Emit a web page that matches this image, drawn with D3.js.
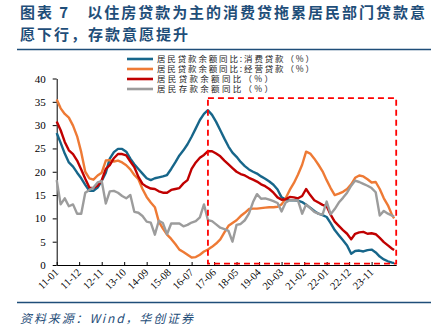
<!DOCTYPE html>
<html><head><meta charset="utf-8">
<script src="https://cdn.jsdelivr.net/npm/d3@7"></script>
<style>
html,body{margin:0;padding:0;background:#fff;}
svg{display:block;}
</style></head>
<body>
<svg id="c" width="431" height="326"></svg>
<script>
// ---- data (bimonthly readings, month index from 2011-01) ----
const months = [0,2,4,6,8,10,12,14,16,18,20,22,24,26,28,30,32,34,36,38,40,42,44,46,48,50,52,54,56,58,60,62,64,66,68,70,72,74,76,78,80,82,84,86,88,90,92,94,96,98,100,102,104,106,108,110,112,114,116,118,120,122,124,126,128,130,132,134,136,138,140,142,144,146,148,150,152,154,156,158,160,162,164,165];
const consumerLoans = [28.3,26.2,23.9,22.0,21.1,19.8,18.6,17.2,15.9,15.9,16.6,18.0,19.8,22.8,24.2,24.9,24.9,24.3,22.8,21.6,20.6,19.6,18.6,18.2,18.6,18.8,19.0,19.3,20.6,22.0,23.5,24.6,25.9,27.5,29.3,31.1,32.4,33.2,32.2,30.7,28.9,27.1,25.4,24.1,23.2,22.1,21.2,20.5,20.0,19.6,19.0,18.5,17.9,17.2,16.2,14.5,14.1,13.9,13.9,13.8,13.5,12.9,12.3,11.6,11.0,10.7,10.3,9.0,7.5,6.4,5.3,4.2,2.4,3.0,3.1,2.9,3.2,3.3,2.7,1.8,1.2,0.8,0.5,0.4];
const businessLoans = [35.5,33.6,32.4,31.6,29.9,27.6,24.2,20.0,18.6,18.3,19.2,19.8,22.4,22.5,22.2,22.4,22.0,21.4,20.5,19.3,18.4,16.3,14.6,13.4,12.4,9.3,7.8,6.5,5.6,4.5,3.3,2.8,2.2,1.6,1.7,2.2,2.9,3.3,3.9,4.6,5.5,7.0,8.4,9.0,9.6,10.5,11.2,12.0,12.1,12.1,12.2,12.3,12.4,12.4,12.5,13.0,14.3,16.1,17.6,19.4,21.5,24.3,23.9,22.8,21.5,20.1,18.2,16.5,15.0,15.3,15.7,16.3,17.3,18.7,19.2,19.0,18.4,17.7,17.8,16.3,14.3,12.8,10.7,10.0];
const householdLoans = [30.8,28.9,26.4,24.6,23.8,22.4,20.5,18.5,16.6,16.5,17.0,18.2,20.6,21.4,22.9,23.8,23.8,23.5,22.2,21.0,18.9,17.4,16.8,16.4,16.3,15.8,15.5,15.5,16.1,16.3,16.5,17.5,18.2,20.6,22.0,23.0,23.6,24.4,24.4,23.9,23.3,22.4,21.6,20.8,20.0,19.5,19.2,18.7,18.3,17.9,17.3,16.9,16.3,15.5,14.5,14.0,14.1,14.6,14.5,14.3,14.8,16.3,15.0,13.9,13.4,12.9,12.6,10.8,9.3,8.4,7.5,6.7,5.5,6.7,7.0,7.1,6.7,6.8,6.6,5.8,4.9,4.2,3.5,3.2];
const householdDeposits = [18.2,13.0,14.3,12.6,13.0,11.0,11.0,15.5,16.1,16.6,17.7,18.0,13.2,15.8,15.9,15.5,14.8,14.3,15.0,11.4,11.2,10.5,9.3,9.1,6.5,9.5,9.0,6.6,8.9,8.9,8.9,8.3,8.6,9.1,9.4,10.2,13.0,9.6,9.4,8.7,8.0,7.7,7.3,5.0,8.6,8.8,9.6,11.0,13.5,15.2,14.2,14.3,14.0,13.7,13.3,11.5,13.4,13.9,13.9,13.8,11.0,13.0,12.2,11.4,11.0,10.8,13.6,10.9,12.0,13.4,14.4,15.5,17.0,18.1,17.8,17.4,17.0,16.5,15.6,10.6,11.6,11.0,10.6,10.4];
const seriesNames = ["居民贷款余额同比:消费贷款（%）","居民贷款余额同比:经营贷款（%）","居民贷款余额同比（%）","居民存款余额同比（%）"];
const tickLabels = ["11-01","11-12","12-11","13-10","14-09","15-08","16-07","17-06","18-05","19-04","20-03","21-02","22-01","22-12","23-11"];
const yTicks = [0,5,10,15,20,25,30,35,40];
const highlight = {start:"2017-03", end:"2024-11", low:0.3, high:35.8};

const colors = ["#17668A","#EE7A35","#C00000","#9C9C9C"];
const allSeries = [consumerLoans,businessLoans,householdLoans,householdDeposits];

const svg = d3.select("#c");
const base = new Date(2011,0,1);
const mDate = m => new Date(2011, m, 1);
const parseTick = s => new Date(2000+ +s.slice(0,2), +s.slice(3)-1, 1);
const parseYM = s => new Date(+s.slice(0,4), +s.slice(5)-1, 1);

const x = d3.scaleTime().domain([base, new Date(2024,10,1)]).range([56.7, 396.2]);
const y = d3.scaleLinear().domain([0,40]).range([265, 78.5]);

// title
const titleColor = "#1F4E79";
svg.append("text").attr("x",20).attr("y",17.5)
  .attr("font-family","'Noto Sans CJK SC'").attr("font-weight","bold").attr("font-size",15)
  .attr("fill",titleColor).attr("textLength",405).attr("lengthAdjust","spacing")
  .text("图表 7　以住房贷款为主的消费贷拖累居民部门贷款意");
svg.append("text").attr("x",20).attr("y",39.5)
  .attr("font-family","'Noto Sans CJK SC'").attr("font-weight","bold").attr("font-size",15)
  .attr("fill",titleColor).attr("textLength",168).attr("lengthAdjust","spacing")
  .text("愿下行，存款意愿提升");
svg.append("line").attr("x1",17).attr("x2",431).attr("y1",49.5).attr("y2",49.5)
  .attr("stroke",titleColor).attr("stroke-width",1.5);

// axes
const xAxis = d3.axisBottom(x).tickValues(tickLabels.map(parseTick))
  .tickSizeInner(-3).tickSizeOuter(0).tickFormat((d,i)=>tickLabels[i]);
const gx = svg.append("g").attr("transform","translate(0,265)").call(xAxis);
gx.select(".domain").attr("stroke","#000").attr("stroke-width",1);
gx.selectAll(".tick line").attr("stroke","#000");
gx.selectAll(".tick text")
  .attr("font-family","'Liberation Serif'").attr("font-size",10.5).attr("fill","#000")
  .attr("text-anchor","end").attr("dy",0).attr("y",0)
  .attr("transform","translate(2,8) rotate(-45)");

const yAxis = d3.axisLeft(y).tickValues(yTicks).tickSizeInner(4).tickSizeOuter(0).tickPadding(7);
const gy = svg.append("g").attr("transform","translate(56.7,0)").call(yAxis);
gy.select(".domain").attr("stroke","#000").attr("stroke-width",1);
gy.selectAll(".tick line").attr("stroke","#000");
gy.selectAll(".tick text").attr("font-family","'Liberation Serif'").attr("font-size",11).attr("fill","#000");

// lines
const line = d3.line().x((d,i)=>x(mDate(months[i]))).y(d=>y(d));
allSeries.forEach((s,k)=>{
  svg.append("path").datum(s).attr("d",line).attr("fill","none")
    .attr("stroke",colors[k]).attr("stroke-width",2.4).attr("stroke-linejoin","round");
});

// highlight box
const hx0 = x(parseYM(highlight.start)), hx1 = x(parseYM(highlight.end));
const hy0 = y(highlight.high), hy1 = y(highlight.low);
svg.append("rect").attr("x",hx0).attr("y",hy0).attr("width",hx1-hx0).attr("height",hy1-hy0)
  .attr("fill","none").attr("stroke","#FF0000").attr("stroke-width",1.8).attr("stroke-dasharray","6,4");

// legend
const legendLen = [157,157,116,116];
seriesNames.forEach((n,k)=>{
  const ly = 59 + k*10;
  svg.append("line").attr("x1",127).attr("x2",153).attr("y1",ly).attr("y2",ly)
    .attr("stroke",colors[k]).attr("stroke-width",2.6);
  svg.append("text").attr("x",157).attr("y",ly+3.2)
    .attr("font-family","'Noto Sans CJK SC'").attr("font-size",8.5).attr("fill","#222")
    .attr("textLength",legendLen[k]).attr("lengthAdjust","spacing").text(n);
});

// source
svg.append("line").attr("x1",17).attr("x2",431).attr("y1",302.5).attr("y2",302.5)
  .attr("stroke",titleColor).attr("stroke-width",1.5);
svg.append("text").attr("x",20).attr("y",323)
  .attr("font-family","'Noto Sans CJK SC'").attr("font-style","italic").attr("font-size",12)
  .attr("fill",titleColor).attr("textLength",173).attr("lengthAdjust","spacing")
  .text("资料来源：Wind，华创证券");
</script>
</body></html>
